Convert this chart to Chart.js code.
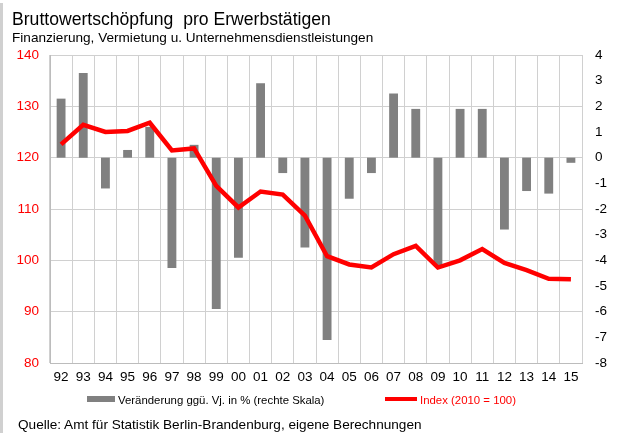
<!DOCTYPE html>
<html>
<head>
<meta charset="utf-8">
<script src="https://cdn.jsdelivr.net/npm/chart.js@4"></script>
<style>
  body { margin: 0; background: #fff; font-family: "Liberation Sans", Arial, sans-serif; }
  #wrap { position: relative; width: 622px; height: 433px; overflow: hidden; }
  #edge { position: absolute; left: 0; top: 3px; width: 3px; height: 430px; background: #d0d0d0; }
  .txt { position: absolute; white-space: pre; color: #000; }
  #title { left: 12px; top: 9px; font-size: 17.6px; }
  #subtitle { left: 12px; top: 30px; font-size: 13.6px; }
  #source { left: 18px; top: 417px; font-size: 13.6px; }
  .swatch { position: absolute; }
  .legend { font-size: 11.4px; top: 394px; }
</style>
</head>
<body>
<div id="wrap">
  <canvas id="chart" width="622" height="433"></canvas>
  <div id="edge"></div>
  <div class="txt" id="title">Bruttowertschöpfung  pro Erwerbstätigen</div>
  <div class="txt" id="subtitle">Finanzierung, Vermietung u. Unternehmensdienstleistungen</div>
  <div class="swatch" style="left:87px; top:396px; width:28px; height:6px; background:#808080;"></div>
  <div class="txt legend" id="lgBar" style="left:118px;"></div>
  <div class="swatch" style="left:385px; top:397px; width:32px; height:4px; background:#ff0000;"></div>
  <div class="txt legend" id="lgLine" style="left:420px; color:#ff0000;"></div>
  <div class="txt" id="source">Quelle: Amt für Statistik Berlin-Brandenburg, eigene Berechnungen</div>
</div>
<script>
// years 1992 - 2015
const years = ["92", "93", "94", "95", "96", "97", "98", "99", "00", "01", "02", "03",
               "04", "05", "06", "07", "08", "09", "10", "11", "12", "13", "14", "15"];

// change vs. previous year in % (right axis)
const changePct = [2.3, 3.3, -1.2, 0.3, 1.2, -4.3, 0.5, -5.9, -3.9, 2.9, -0.6, -3.5,
                   -7.1, -1.6, -0.6, 2.5, 1.9, -4.2, 1.9, 1.9, -2.8, -1.3, -1.4, -0.2];

// index 2010 = 100 (left axis)
const indexVals = [122.6, 126.4, 125.0, 125.2, 126.8, 121.4, 121.8, 114.5, 110.3, 113.4, 112.8, 108.7,
                   100.8, 99.2, 98.6, 101.2, 102.8, 98.6, 100.0, 102.2, 99.5, 98.1, 96.4, 96.3];

const barLabel = "Veränderung ggü. Vj. in % (rechte Skala)";
const lineLabel = "Index (2010 = 100)";

document.getElementById("lgBar").textContent = barLabel;
document.getElementById("lgLine").textContent = lineLabel;

const font = { family: "'Liberation Sans', Arial, sans-serif", size: 13.5 };

new Chart(document.getElementById("chart"), {
  type: "bar",
  data: {
    labels: years,
    datasets: [
      {
        type: "line",
        label: lineLabel,
        data: indexVals,
        yAxisID: "y",
        borderColor: "#ff0000",
        borderWidth: 4.5,
        pointRadius: 0,
        tension: 0,
        borderJoinStyle: "miter",
        order: 0,
      },
      {
        type: "bar",
        label: barLabel,
        data: changePct,
        yAxisID: "y2",
        backgroundColor: "#808080",
        barPercentage: 0.4,
        categoryPercentage: 1.0,
        order: 1,
      },
    ],
  },
  options: {
    responsive: false,
    animation: false,
    devicePixelRatio: 1,
    layout: { padding: { top: 55, bottom: 40, left: 0, right: 0 } },
    plugins: {
      legend: { display: false },
      tooltip: { enabled: false },
    },
    scales: {
      x: {
        afterFit: (s) => { s.height = 30; },
        grid: { offset: true, color: "#d0d0d0", drawTicks: false },
        border: { color: "#bcbcbc" },
        ticks: { color: "#000", font: font, padding: 6, maxRotation: 0 },
      },
      y: {
        position: "left",
        min: 80,
        max: 140,
        afterFit: (s) => { s.width = 50; },
        ticks: { stepSize: 10, color: "#ff0000", font: font, padding: 11 },
        grid: { color: "#d0d0d0", drawTicks: false },
        border: { color: "#bcbcbc" },
      },
      y2: {
        position: "right",
        min: -8,
        max: 4,
        afterFit: (s) => { s.width = 40; },
        ticks: { stepSize: 1, color: "#000", font: font, padding: 13 },
        grid: { display: false, drawTicks: false },
        border: { display: false },
      },
    },
  },
});
</script>
</body>
</html>
